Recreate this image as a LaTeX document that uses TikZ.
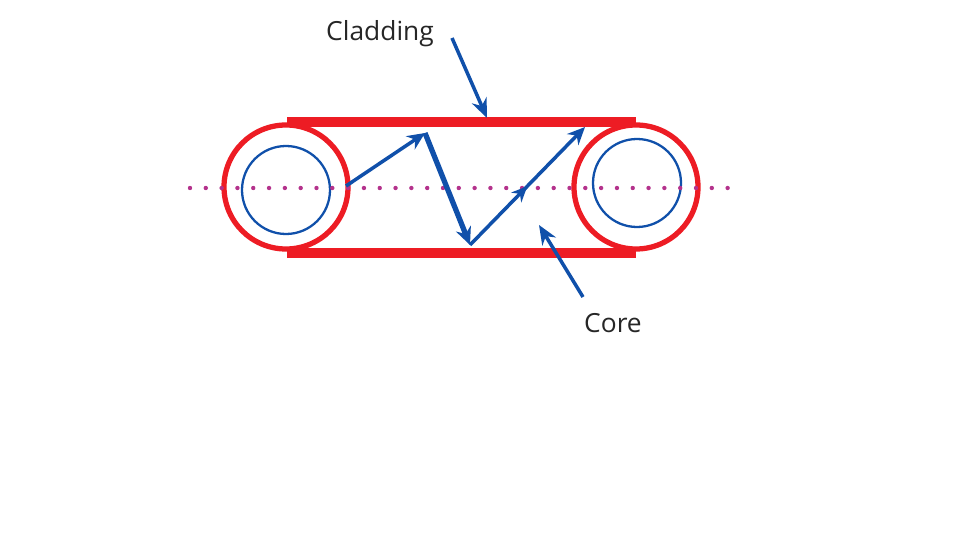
\documentclass[tikz,border=0pt]{standalone}
\usepackage{fontspec}
\setmainfont{Open Sans}
\usetikzlibrary{arrows.meta,decorations.markings}
\definecolor{fibred}{RGB}{237,28,36}
\definecolor{rayblue}{RGB}{16,80,170}
\definecolor{axispurple}{RGB}{180,50,140}
\begin{document}
\begin{tikzpicture}[x=0.02cm,y=-0.02cm]
\tikzset{clad/.style={color=fibred, line width=3pt},
  coreline/.style={color=rayblue, line width=1.3pt},
  ray/.style={color=rayblue, line width=2pt,-{Stealth[length=10pt,width=9pt]}},
  pointer/.style={color=rayblue, line width=2pt,-{Stealth[length=11pt,width=9pt]}},
  lbl/.style={font=\fontsize{15}{18}\selectfont, text=black!85}}
\useasboundingbox (0,0) rectangle (960,540);
\draw[clad] (286,187) circle (62);
\draw[clad] (636,187) circle (62);
\draw[coreline] (286,190) circle (44);
\draw[coreline] (637,183) circle (44);
\draw[color=fibred, line width=6pt] (287,122) -- (636,122);
\draw[color=fibred, line width=6pt] (287,253) -- (636,253);
\draw[color=axispurple, line width=2.5pt, line cap=round, dash pattern=on 0pt off 9pt] (190,188) -- (735,188);
\coordinate (r0) at (346,186);
\coordinate (r1) at (425,133);
\coordinate (r2) at (470,245);
\coordinate (r3) at (585,127);
\draw[ray] (r0) -- (r1);
\draw[ray, line width=3pt] (r1) -- (r2);
\draw[ray, postaction={decorate}, decoration={markings, mark=at position 0.5 with {\arrow{Stealth[length=9pt,width=8pt]}}}] (r2) -- (r3);
\node[lbl] (cladding) at (380,34) {Cladding};
\node[lbl] (core) at (613,323) {Core};
\coordinate (cladtip) at (487,118);
\coordinate (coretip) at (539,225);
\draw[pointer] (452,38) -- (cladtip);
\draw[pointer] (583,297) -- (coretip);
\end{tikzpicture}
\end{document}
